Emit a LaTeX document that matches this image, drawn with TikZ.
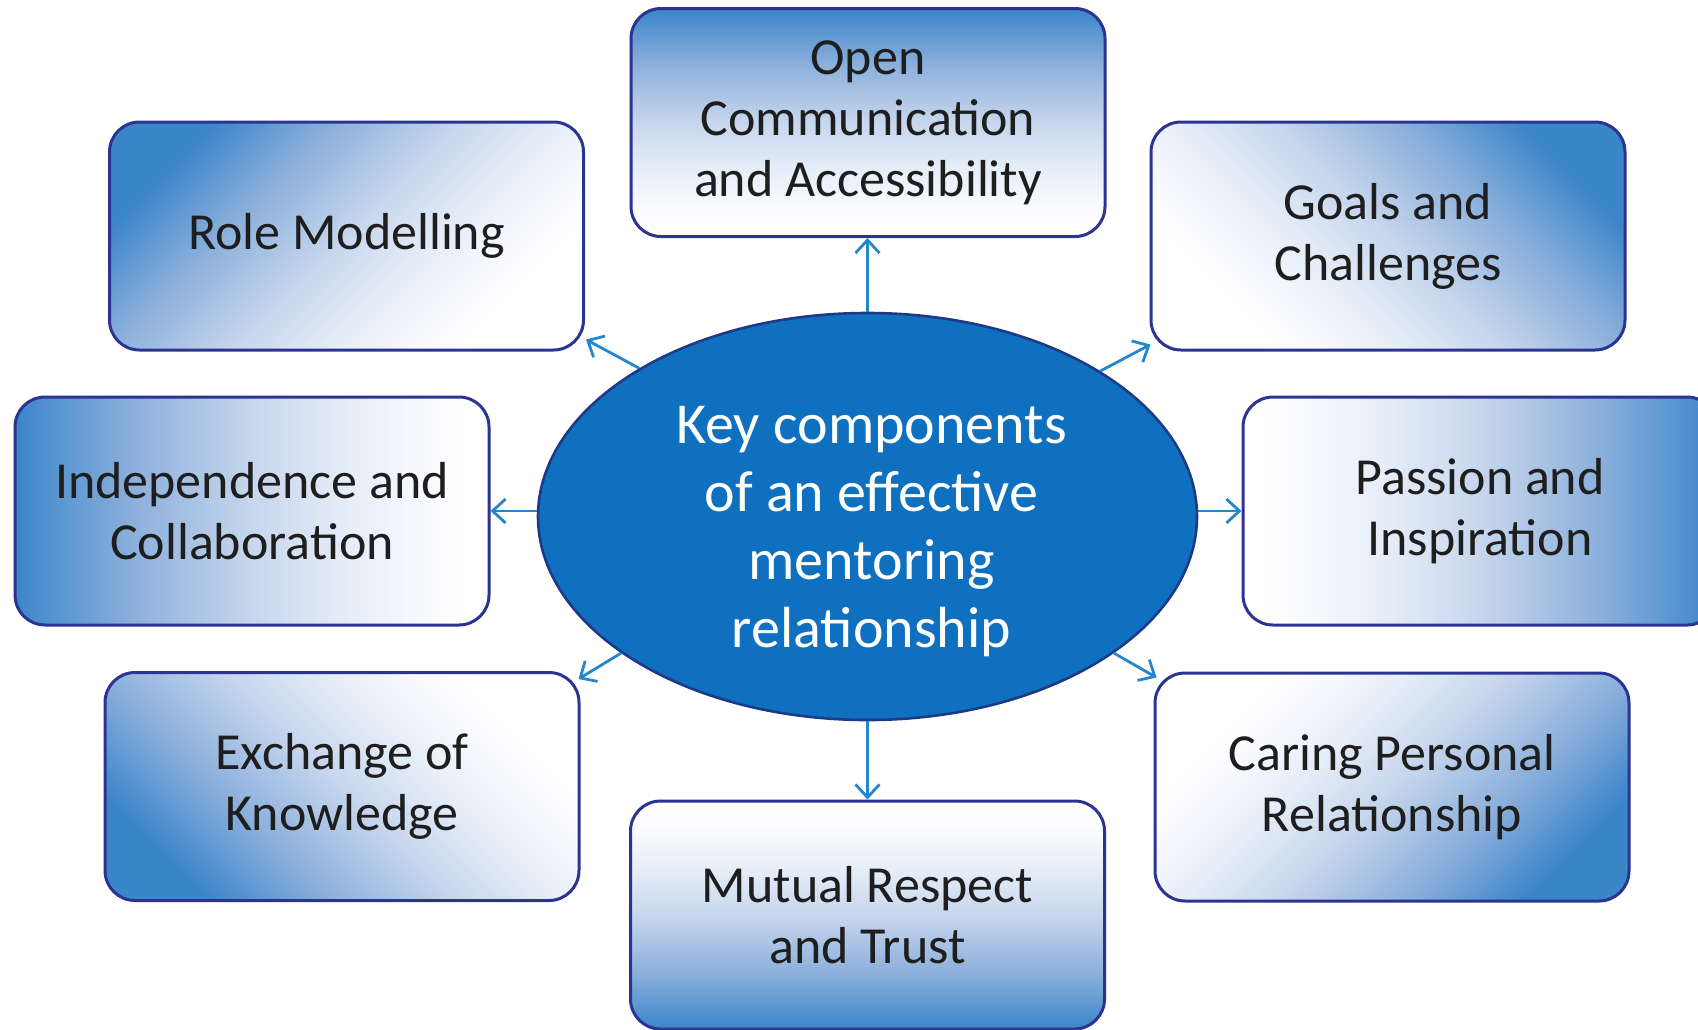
\documentclass[tikz,border=0pt]{standalone}
\usepackage{fontspec}
\setmainfont{Carlito}
\usetikzlibrary{shapes.geometric,arrows.meta}
\definecolor{boxborder}{RGB}{44,52,146}
\definecolor{ellfill}{RGB}{14,112,190}
\definecolor{ellborder}{RGB}{28,58,136}
\definecolor{arrowblue}{RGB}{36,134,206}
\definecolor{txt}{RGB}{30,30,30}
\pgfdeclarehorizontalshading{boxshade}{100bp}{rgb(0bp)=(1,1,1); rgb(25bp)=(1,1,1); rgb(30bp)=(0.99,0.99,1); rgb(40bp)=(0.90,0.93,0.97); rgb(50bp)=(0.78,0.84,0.93); rgb(62.5bp)=(0.55,0.69,0.86); rgb(70bp)=(0.36,0.59,0.82); rgb(75bp)=(0.23,0.52,0.79); rgb(100bp)=(0.23,0.52,0.79)}
\tikzset{
  compbox/.style={draw=boxborder, line width=1.5pt, rounded corners=15pt,
    minimum width=237pt, minimum height=114pt, inner sep=0pt,
    shading=boxshade, align=center, text=txt,
    font=\fontsize{26pt}{30.5pt}\selectfont},
  centreell/.style={ellipse, draw=ellborder, line width=1.3pt, fill=ellfill,
    minimum width=329.5pt, minimum height=203.5pt, inner sep=0pt},
  centretext/.style={align=center, text=white, inner sep=0pt,
    font=\fontsize{29pt}{34pt}\selectfont},
  arr/.style={draw=arrowblue, line width=1.4pt,
    -{Straight Barb[length=6.5pt,width=12pt,line width=1.4pt]}}
}
\begin{document}
\begin{tikzpicture}[x=0.5pt,y=-0.5pt]
\useasboundingbox (0,0) rectangle (1698,1029);
\clip (0,0) rectangle (1698,1029);
\fill[white] (0,0) rectangle (1698,1029);

\node[compbox, shading angle=90]  (open)     at (868,122.5) {Open\\Communication\\and Accessibility};
\node[compbox, shading angle=135] (role)     at (346.5,236) {Role Modelling};
\node[compbox, shading angle=45]  (goals)    at (1388,236)  {Goals and\\Challenges};
\node[compbox, shading angle=180] (indep)    at (252,511)   {Independence and\\Collaboration};
\node[compbox, shading angle=0]   (passion)  at (1480,511)  {Passion and\\Inspiration};
\node[compbox, shading angle=225] (exchange) at (342,786.5) {Exchange of\\Knowledge};
\node[compbox, shading angle=-45] (caring)   at (1392,787)  {Caring Personal\\Relationship};
\node[compbox, shading angle=-90] (mutual)   at (867.5,915) {Mutual Respect\\and Trust};

\node[centreell] (c) at (867.5,516.5) {};
\node[centretext] (ctext) at ([shift={(4,15)}]c.center) {Key components\\of an effective\\mentoring\\relationship};

\draw[arr] (c.north) -- (c.north |- open.south);
\draw[arr] (c.south) -- (c.south |- mutual.north);
\draw[arr] (c.west |- indep.east) -- (indep.east);
\draw[arr] (c.east |- passion.west) -- (passion.west);
\draw[arr] (c.147) -- ([shift={(1,-12)}]role.south east);
\draw[arr] (c.32) -- ([shift={(1,-7)}]goals.south west);
\draw[arr] (c.209.4) -- ([shift={(-2,8)}]exchange.north east);
\draw[arr] (c.331.5) -- ([shift={(3,6)}]caring.north west);
\end{tikzpicture}
\end{document}
